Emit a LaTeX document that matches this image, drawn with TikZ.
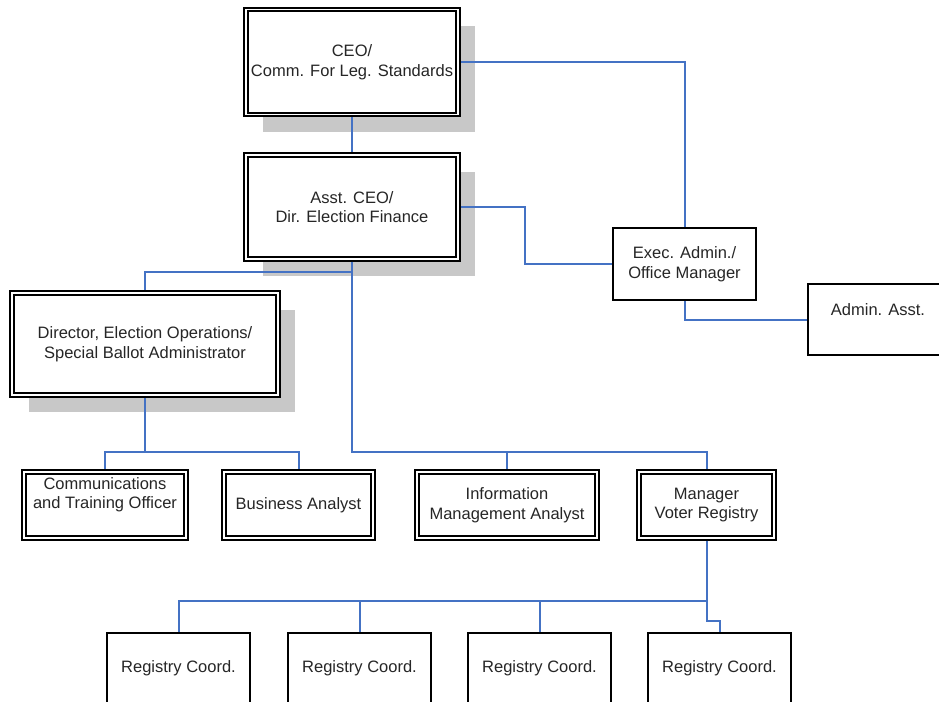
\documentclass[tikz,border=0pt]{standalone}
\usepackage{fontspec}
\setmainfont{Liberation Sans}
\usepackage{xcolor}
\definecolor{orgblue}{RGB}{68,114,196}
\definecolor{orgshade}{RGB}{200,200,200}
\usetikzlibrary{shadows}

\begin{document}
\begin{tikzpicture}[
  x=1pt,y=-1pt,
  card/.style={draw,line width=1.8pt,fill=white,inner sep=0pt,align=center,
    font=\fontsize{16.5}{19.5}\selectfont,text=black!85,outer sep=0.9pt},
  dcard/.style={card,line width=1.9pt,double=white,double distance=1.9pt,outer sep=2.9pt},
  shade/.style={drop shadow={shadow xshift=17pt,shadow yshift=-17pt,fill=orgshade,opacity=1}},
  link/.style={draw=orgblue,line width=2pt}
]
  \useasboundingbox (0,0) rectangle (939,701);
  % Top of the chart
  \node[dcard,shade,minimum width=212,minimum height=105] (ceo) at (352,62)
    {CEO/\\Comm. For Leg. Standards};
  \node[dcard,shade,minimum width=212,minimum height=104] (asst) at (352,207)
    {Asst. CEO/\\Dir. Election Finance};
  \node[card,minimum width=143,minimum height=72] (exec) at (684.5,264)
    {Exec. Admin./\\Office Manager};
  \node[card,minimum width=140,minimum height=71] (admin) at (878,319.5)
    {Admin. Asst.\\~};
  \node[dcard,shade,minimum width=266,minimum height=102] (dir) at (145,344)
    {Director, Election Operations/\\Special Ballot Administrator};
  % Row of officers
  \node[dcard,minimum width=162,minimum height=66,text depth=24pt] (comm) at (105,505)
    {Communications\\and Training Officer};
  \node[dcard,minimum width=149,minimum height=66] (busan) at (298.5,505)
    {Business Analyst};
  \node[dcard,minimum width=180,minimum height=66] (info) at (507,505)
    {Information\\Management Analyst};
  \node[dcard,minimum width=135,minimum height=66] (mgr) at (706.5,505)
    {Manager\\Voter Registry};
  % Registry coordinators
  \foreach \i/\xx in {1/178.5,2/359.5,3/539.5,4/719.5}
    \node[card,minimum width=143,minimum height=70] (reg\i) at (\xx,668) {Registry Coord.};

  % Connectors
  \draw[link] (ceo) -- (asst);
  \draw[link] (ceo.east) -| (exec.north);
  \draw[link] (asst.east) -- ++(64,0) |- (exec.west);
  \draw[link] (exec.south) |- (admin.west);
  \draw[link] (asst.south) -- ++(0,10) -| (dir.north);
  \draw[link] (asst.south) -- ++(0,190) -| (info.north);
  \draw[link] (asst.south) -- ++(0,190) -| (mgr.north);
  \draw[link] (dir.south) -- ++(0,54) -| (comm.north);
  \draw[link] (dir.south) -- ++(0,54) -| (busan.north);
  \foreach \i in {1,2,3}
    \draw[link] (mgr.south) -- ++(0,60) -| (reg\i.north);
  \draw[link] (mgr.south) -- ++(0,80) -| (reg4.north);
\end{tikzpicture}
\end{document}
